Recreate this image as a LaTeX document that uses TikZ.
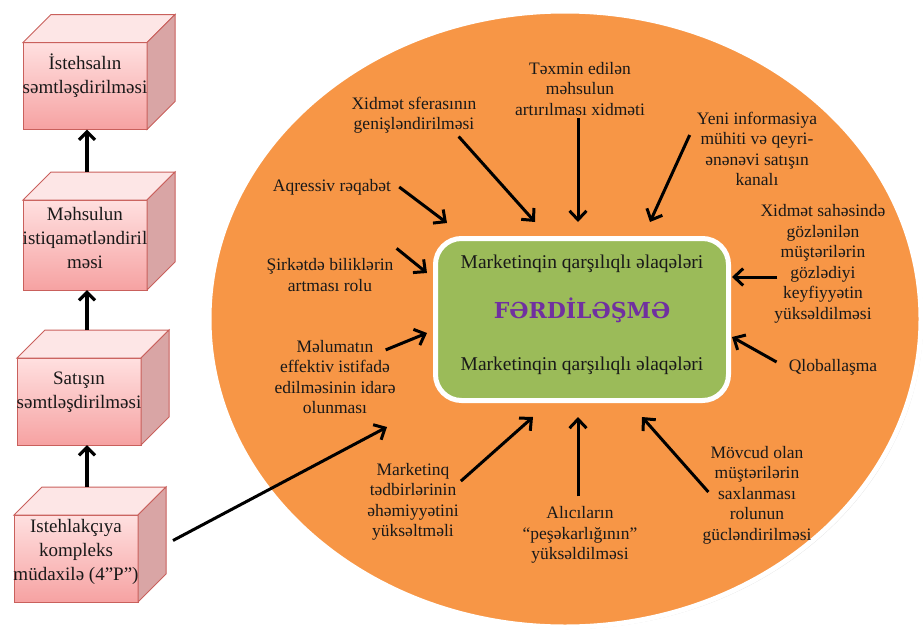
\documentclass[tikz,border=0pt]{standalone}
\usepackage{fontspec}
\setmainfont{Liberation Serif}
\newfontfamily\brandfont{DejaVu Serif}
\usetikzlibrary{shapes.geometric, arrows.meta, calc, shadows}

\definecolor{ovalorange}{HTML}{F79646}
\definecolor{coregreen}{HTML}{9BBB59}
\definecolor{brandpurple}{HTML}{7030A0}
\definecolor{cubeedge}{HTML}{C9605C}
\definecolor{cubelight}{HTML}{FFE0E0}
\definecolor{cubedark}{HTML}{F6A2A2}
\definecolor{cubetopc}{HTML}{FDE6E6}
\definecolor{cubesidec}{HTML}{D9A5A5}

\begin{document}
\begin{tikzpicture}[
    x=1pt, y=-1pt,
    cube/.style={
        rectangle,
        draw=cubeedge,
        line width=1pt,
        minimum width=124pt,
        minimum height=87pt,
        top color=cubelight,
        bottom color=cubedark,
        outer sep=0pt
    },
    cubetop/.style={draw=cubeedge, line width=1pt, fill=cubetopc},
    cubeside/.style={draw=cubeedge, line width=1pt, fill=cubesidec},
    cubetext/.style={align=center, font=\fontsize{19}{24}\selectfont, text=black!90},
    factor/.style={align=center, font=\fontsize{17.5}{20.5}\selectfont, text=black!90, inner sep=0pt},
    coretext/.style={font=\fontsize{19.5}{23}\selectfont, text=black!90},
    push/.style={line width=3pt, -{Straight Barb[length=9pt, width=17pt]}},
    uparrow/.style={line width=3.2pt, -{Straight Barb[length=8pt, width=16pt]}}
]
    \useasboundingbox (0,0) rectangle (923,637);

    % Oval background
    \node[ellipse, minimum width=712pt, minimum height=616pt, fill=ovalorange, draw=white, line width=5pt,
          drop shadow={opacity=0.25, shadow xshift=2pt, shadow yshift=-2pt}] (oval) at (565,319) {};

    % Core box
    \node[rectangle, rounded corners=26pt, minimum width=293pt, minimum height=162pt, fill=coregreen,
          draw=white, line width=5pt, drop shadow={opacity=0.2, shadow xshift=2pt, shadow yshift=-2pt}] (core) at (582,319.5) {};
    \node[coretext] (link-top) at (582,264) {Marketinqin qarşılıqlı əlaqələri};
    \node[font=\brandfont\bfseries\fontsize{22}{26}\selectfont, text=brandpurple] (brand) at (582,310) {FƏRDİLƏŞMƏ};
    \node[coretext] (link-bot) at (582,366) {Marketinqin qarşılıqlı əlaqələri};

    % Cubes
    \node[cube, minimum height=87pt] (prod) at (85,86) {};
    \node[cube, minimum height=90pt] (mehs) at (85,245) {};
    \node[cube] (sat) at (79,401.5) {};
    \node[cube] (ist) at (76,558.5) {};

    \foreach \c in {prod, mehs, sat, ist} {
        \draw[cubetop] (\c.north west) -- ++(28,-28) -- ($(\c.north east)+(28,-28)$) -- (\c.north east) -- cycle;
        \draw[cubeside] (\c.north east) -- ++(28,-28) -- ($(\c.south east)+(28,-28)$) -- (\c.south east) -- cycle;
    }

    \node[cubetext] (prod-t) at ([yshift=10pt]prod.center) {İstehsalın\\səmtləşdirilməsi};
    \node[cubetext] (mehs-t) at ([yshift=7pt]mehs.center) {Məhsulun\\istiqamətləndiril\\məsi};
    \node[cubetext] (sat-t) at ([yshift=9pt]sat.center) {Satışın\\səmtləşdirilməsi};
    \node[cubetext] (ist-t) at ([yshift=7pt]ist.center) {Istehlakçıya\\kompleks\\müdaxilə (4”P”)};

    % Cube arrows
    \draw[uparrow] ([shift={(2,-28)}]mehs.north) -- ([xshift=2pt]prod.south);
    \draw[uparrow] ([shift={(8,-28)}]sat.north) -- ([xshift=2pt]mehs.south);
    \draw[uparrow] ([shift={(11,-28)}]ist.north) -- ([xshift=8pt]sat.south);

    % Factors
    \node[factor] (aqressiv) at (332,187) {Aqressiv rəqabət};
    \node[factor] (sfera) at (414,115) {Xidmət sferasının\\genişləndirilməsi};
    \node[factor] (texmin) at (580,89) {Təxmin edilən\\məhsulun\\artırılması xidməti};
    \node[factor] (yeni) at (757,149) {Yeni informasiya\\mühiti və qeyri-\\ənənəvi satışın\\kanalı};
    \node[factor] (sahe) at (823,264) {Xidmət sahəsində\\gözlənilən\\müştərilərin\\gözlədiyi\\keyfiyyətin\\yüksəldilməsi};
    \node[factor] (qlobal) at (833,367) {Qloballaşma};
    \node[factor] (movcud) at (757,495) {Mövcud olan\\müştərilərin\\saxlanması\\rolunun\\gücləndirilməsi};
    \node[factor] (alici) at (580,535) {Alıcıların\\“peşəkarlığının”\\yüksəldilməsi};
    \node[factor] (marketinq) at (413,502) {Marketinq\\tədbirlərinin\\əhəmiyyətini\\yüksəltməli};
    \node[factor] (melumat) at (335,377) {Məlumatın\\effektiv istifadə\\edilməsinin idarə\\olunması};
    \node[factor] (sirket) at (330,275) {Şirkətdə biliklərin\\artması rolu};

    % Arrow heads near the core
    \coordinate (aqressiv-h) at (447,223);
    \coordinate (sfera-h) at (535,222);
    \coordinate (texmin-h) at (578,222);
    \coordinate (yeni-h) at (650,222);
    \coordinate (sahe-h) at (732,277);
    \coordinate (qlobal-h) at (732,337);
    \coordinate (movcud-h) at (642,417);
    \coordinate (alici-h) at (578,417);
    \coordinate (marketinq-h) at (533,417);
    \coordinate (melumat-h) at (427,333);
    \coordinate (sirket-h) at (427,273);
    \coordinate (big-h) at (387,427);

    % Arrows
    \draw[push] ([xshift=8pt]aqressiv.east) -- (aqressiv-h);
    \draw[push] ([xshift=-18pt, yshift=-3pt]sfera.south east) -- (sfera-h);
    \draw[push] ([xshift=-2pt, yshift=-2pt]texmin.south) -- (texmin-h);
    \draw[push] ([shift={(-7,-14)}]yeni.west) -- (yeni-h);
    \draw[push] ([shift={(17,13)}]sahe.west) -- (sahe-h);
    \draw[push] ([shift={(-12,-5)}]qlobal.west) -- (qlobal-h);
    \draw[push] ([shift={(6,-3)}]movcud.west) -- (movcud-h);
    \draw[push] ([xshift=-2pt, yshift=10pt]alici.north) -- (alici-h);
    \draw[push] ([shift={(2,18)}]marketinq.north east) -- (marketinq-h);
    \draw[push] ([shift={(-10,10)}]melumat.north east) -- (melumat-h);
    \draw[push] ([shift={(3,-10)}]sirket.north east) -- (sirket-h);
    \draw[push] ([shift={(35,-18)}]ist.east) -- (big-h);

\end{tikzpicture}
\end{document}
